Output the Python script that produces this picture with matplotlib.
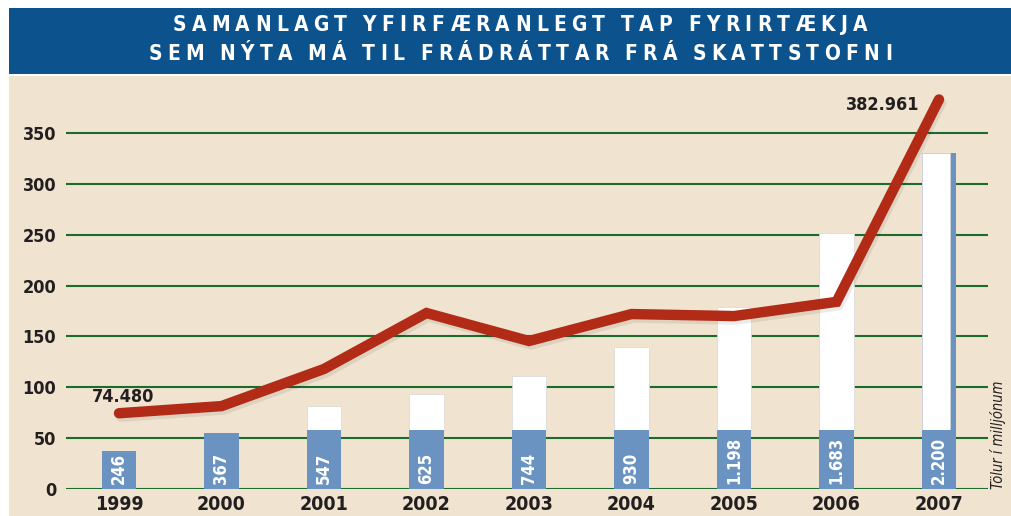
import matplotlib
matplotlib.use("Agg")
import matplotlib.pyplot as plt
import matplotlib.patheffects as pe
from matplotlib.patches import Rectangle

years = ["1999", "2000", "2001", "2002", "2003", "2004", "2005", "2006", "2007"]
companies = ["246", "367", "547", "625", "744", "930", "1.198", "1.683", "2.200"]
bar_heights = [37, 55, 82, 93, 111, 140, 179, 252, 330]
loss = [74.48, 81.5, 118, 173, 145.5, 172, 170, 184, 382.961]
title_lines = ["SAMANLAGT YFIRFÆRANLEGT TAP FYRIRTÆKJA",
               "SEM NÝTA MÁ TIL FRÁDRÁTTAR FRÁ SKATTSTOFNI"]

plt.rcParams["font.family"] = ["DejaVu Sans"]
plt.rcParams["font.stretch"] = "condensed"

BEIGE = "#f0e4d0"
BANNER = "#0c528c"
BLUE = "#6b93c1"
RED = "#b22b16"
GREEN = "#1b6b2c"
DARK = "#231f20"

fig = plt.figure(figsize=(10.12, 5.16), dpi=100, facecolor="white")
W, H = 1012, 516
fig.patches.append(Rectangle((9 / W, 0), 1, (H - 76) / H, transform=fig.transFigure,
                             facecolor=BEIGE, edgecolor="none", zorder=-10))
fig.patches.append(Rectangle((9 / W, (H - 74) / H), 1, 66 / H, transform=fig.transFigure,
                             facecolor=BANNER, edgecolor="none", zorder=-10))

# title with letter spacing, one glyph at a time
renderer = fig.canvas.get_renderer()
track = 5.3  # px between letters
word_gap = 5  # px for a space
for line, yc in zip(title_lines, [25, 54]):
    widths = []
    for ch in line:
        if ch == " ":
            widths.append(word_gap)
            continue
        t = fig.text(0, 0, ch, fontsize=15, fontweight="bold")
        widths.append(t.get_window_extent(renderer).width)
        t.remove()
    total = sum(widths) + track * (len(line) - 1)
    xpos = 520 - total / 2
    for ch, w in zip(line, widths):
        if ch != " ":
            fig.text(xpos / W, (H - yc) / H, ch, color="white", fontsize=15,
                     fontweight="bold", ha="left", va="center")
        xpos += w + track

ax = fig.add_axes([66 / W, 27 / H, 922 / W, (489 - 92.3) / H])
ax.set_zorder(1)
ax.set_facecolor("none")
ax.set_xlim(-0.517, 8.478)
ax.set_ylim(0, 390)

for v in range(0, 351, 50):
    ax.axhline(v, color=GREEN, lw=1.5, zorder=1)

x = list(range(len(years)))
bw = 0.332
blue_cap = 58
for i, h in enumerate(bar_heights):
    if i == len(bar_heights) - 1:
        ax.bar(i, h, width=bw, color=BLUE, zorder=2)
        ax.bar(i - 0.03, h - blue_cap, bottom=blue_cap, width=bw - 0.06,
               color="white", edgecolor="#d8d8d8", lw=0.5, zorder=2)
    elif h > blue_cap:
        ax.bar(i, h - blue_cap, bottom=blue_cap, width=bw, color="white",
               edgecolor="#d8d8d8", lw=0.5, zorder=2)
    ax.bar(i, min(h, blue_cap), width=bw, color=BLUE, zorder=2)
    ax.text(i, 5, companies[i], rotation=90, color="white", fontsize=12,
            fontweight="bold", ha="center", va="bottom", zorder=3)

ax.plot(x, loss, color=RED, lw=7.5, solid_capstyle="round", solid_joinstyle="miter",
        zorder=4, clip_on=False,
        path_effects=[pe.SimpleLineShadow(offset=(1.5, -2.5), shadow_color="k", alpha=0.08),
                      pe.Normal()])

ax.annotate("74.480", (0, loss[0]), xytext=(3, 12), textcoords="offset points",
            ha="center", va="center", fontsize=13, fontweight="bold", color=DARK)
ax.annotate("382.961", (8, loss[-1]), xytext=(-14, -4), textcoords="offset points",
            ha="right", va="center", fontsize=13, fontweight="bold", color=DARK)

ax.text(998 / W, 27 / H, "Tölur í milljónum", transform=fig.transFigure, rotation=90,
        ha="center", va="bottom", fontsize=10.5, fontstyle="oblique", color=DARK)

ax.set_xticks(x)
ax.set_xticklabels(years, fontsize=14, fontweight="bold", color=DARK)
ax.set_yticks(range(0, 351, 50))
ax.set_yticklabels([str(v) for v in range(0, 351, 50)], fontsize=13,
                   fontweight="bold", color=DARK)
ax.tick_params(length=0)
ax.tick_params(axis="y", pad=7)
ax.tick_params(axis="x", pad=4)
for s in ax.spines.values():
    s.set_visible(False)

fig.savefig("out.png", dpi=100, facecolor="white")
